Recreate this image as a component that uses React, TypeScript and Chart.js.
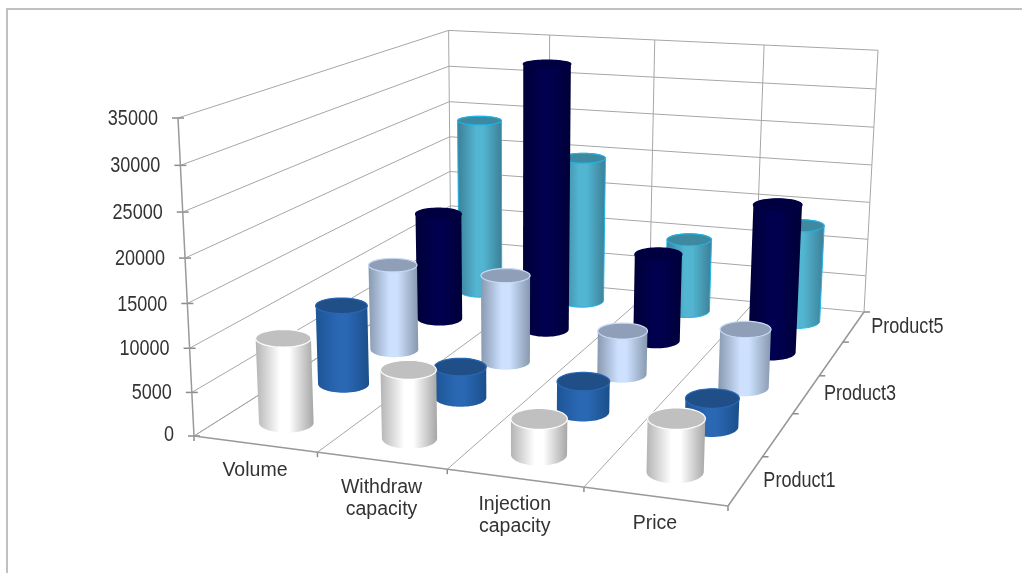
import React, { useEffect, useRef } from "react";
import { Chart, registerables } from "chart.js";

Chart.register(...registerables);

const categories: (string | string[])[] = ["Volume", ["Withdraw", "capacity"], ["Injection", "capacity"], "Price"];
const products = ["Product1", "Product2", "Product3", "Product4", "Product5"];
const product1 = [9800, 7800, 4000, 5800];
const product2 = [9600, 3700, 3600, 3300];
const product3 = [10900, 10900, 5400, 7100];
const product4 = [14200, 34500, 11300, 18800];
const product5 = [24000, 19800, 9800, 12900];
const seriesValues = [product1, product2, product3, product4, product5];

// shading per series: edge-left, light, edge-right, top, rim
const shades = [
  { l: "#b4b4b4", m: "#ffffff", r: "#a6a6a6", top: "#c0c0c0", rim: "#ffffff" },
  { l: "#1d5595", m: "#2a68b4", r: "#1b4f8a", top: "#1f4f86", rim: "#2a68b4" },
  { l: "#8899b0", m: "#cde1ff", r: "#8798ae", top: "#8f9fb8", rim: "#c6d9f5" },
  { l: "#000038", m: "#00004f", r: "#000038", top: "#000040", rim: "#000048" },
  { l: "#3d7f97", m: "#52b6d2", r: "#3d7f97", top: "#3e899f", rim: "#1fb4e6" },
];

// Box geometry in picture space.
const floorCorners = [[194, 436], [728, 506], [864, 312], [451, 273.5]];
const topFrontLeft = [178, 118];
const topBackRight = [878, 51];

function makeProjector() {
  const [[x0, y0], [x1, y1], [x2, y2], [x3, y3]] = floorCorners;
  const dx1 = x1 - x2, dx2 = x3 - x2, sx = x0 - x1 + x2 - x3;
  const dy1 = y1 - y2, dy2 = y3 - y2, sy = y0 - y1 + y2 - y3;
  const den = dx1 * dy2 - dx2 * dy1;
  const g = (sx * dy2 - dx2 * sy) / den;
  const h = (dx1 * sy - sx * dy1) / den;
  const pu = [x1 - x0 + g * x1, y1 - y0 + g * y1, g];
  const pv = [x3 - x0 + h * x3, y3 - y0 + h * y3, h];
  const p0 = [x0, y0, 1];
  const T = [topFrontLeft[0], topFrontLeft[1], 1];
  const n = pu[0] + pv[0], m = pu[2] + pv[2];
  const s = (n - topBackRight[0] * m) / (topBackRight[0] - T[0]);
  const pw = [s * T[0] - p0[0], s * T[1] - p0[1], s - p0[2]];
  return (u: number, v: number, w: number): [number, number] => {
    const X = pu[0] * u + pv[0] * v + pw[0] * w + p0[0];
    const Y = pu[1] * u + pv[1] * v + pw[1] * w + p0[1];
    const W = pu[2] * u + pv[2] * v + pw[2] * w + p0[2];
    return [X / W, Y / W];
  };
}

function hull(pts: [number, number][]) {
  const p = [...pts].sort((a, b) => a[0] - b[0] || a[1] - b[1]);
  const cross = (o: number[], a: number[], b: number[]) =>
    (a[0] - o[0]) * (b[1] - o[1]) - (a[1] - o[1]) * (b[0] - o[0]);
  const lo: [number, number][] = [];
  for (const q of p) {
    while (lo.length >= 2 && cross(lo[lo.length - 2], lo[lo.length - 1], q) <= 0) lo.pop();
    lo.push(q);
  }
  const up: [number, number][] = [];
  for (let i = p.length - 1; i >= 0; i--) {
    const q = p[i];
    while (up.length >= 2 && cross(up[up.length - 2], up[up.length - 1], q) <= 0) up.pop();
    up.push(q);
  }
  return lo.slice(0, -1).concat(up.slice(0, -1));
}

// Circle on the floor or lid of the box, drawn level as the reference does.
function levelEllipse(pts: [number, number][], N: number) {
  const xs = pts.map((p) => p[0]);
  const ys = pts.map((p) => p[1]);
  const x0 = Math.min(...xs), x1 = Math.max(...xs), y0 = Math.min(...ys), y1 = Math.max(...ys);
  const out: [number, number][] = [];
  for (let k = 0; k < N; k++) {
    const t = (k / N) * Math.PI * 2;
    out.push([(x0 + x1) / 2 + ((x1 - x0) / 2) * Math.cos(t), (y0 + y1) / 2 + ((y1 - y0) / 2) * Math.sin(t)]);
  }
  return out;
}

const NARROW = 0.82;

const cylinder3D = {
  id: "cylinder3D",
  beforeDatasetsDraw(chart: any) {
    const { ctx, scales } = chart;
    const xs = scales.x, ys = scales.y, zs = scales.z;
    const P = makeProjector();
    const U = (i: number) => (xs.getPixelForValue(i) - xs.left) / xs.width;
    const V = (j: number) => (zs.getPixelForValue(j) - zs.left) / zs.width;
    const W = (val: number) => (ys.bottom - ys.getPixelForValue(val)) / ys.height;
    const nCat = categories.length, nSer = products.length;

    const line = (a: [number, number], b: [number, number], color = "#a6a6a6", lw = 1) => {
      ctx.strokeStyle = color;
      ctx.lineWidth = lw;
      ctx.beginPath();
      ctx.moveTo(a[0], a[1]);
      ctx.lineTo(b[0], b[1]);
      ctx.stroke();
    };
    const narrowText = (t: string, x: number, y: number) => {
      ctx.save();
      ctx.translate(x, y);
      ctx.scale(NARROW, 1);
      ctx.fillText(t, 0, 0);
      ctx.restore();
    };

    ctx.save();
    // chart frame
    ctx.strokeStyle = "#c0c0c0";
    ctx.lineWidth = 2;
    ctx.beginPath();
    ctx.moveTo(7, 575);
    ctx.lineTo(7, 9);
    ctx.lineTo(1024, 9);
    ctx.stroke();

    // walls
    const ticks = ys.ticks.map((t: any) => t.value);
    for (const t of ticks) {
      const w = W(t);
      line(P(0, 0, w), P(0, 1, w));
      line(P(0, 1, w), P(1, 1, w));
      const a = P(0, 0, w);
      line([a[0] - 6, a[1]], [a[0] + 6, a[1]], "#8c8c8c", 1.5);
      ctx.fillStyle = "#333333";
      ctx.font = '22px "Liberation Sans", Arial, sans-serif';
      ctx.textAlign = "right";
      ctx.textBaseline = "middle";
      narrowText(String(t), a[0] - 20, a[1] + (t === 0 ? -1 : 1));
    }
    for (let i = 0; i <= nCat; i++) {
      const u = i / nCat;
      line(P(u, 1, 0), P(u, 1, 1));
      line(P(u, 0, 0), P(u, 1, 0));
      const a = P(u, 0, 0);
      line(a, [a[0], a[1] + 5], "#8c8c8c", 1.5);
    }
    line(P(0, 0, 0), P(0, 0, 1), "#999999", 1.5);
    line(P(0, 0, 0), P(1, 0, 0), "#999999", 1.5);
    line(P(1, 0, 0), P(1, 1, 0), "#999999", 1.5);
    for (let j = 1; j <= nSer; j++) {
      const a = P(1, j / nSer, 0);
      line(a, [a[0] + 6, a[1]], "#8c8c8c", 1.5);
    }

    // category labels
    ctx.fillStyle = "#333333";
    ctx.font = '19.5px "Liberation Sans", Arial, sans-serif';
    ctx.textAlign = "center";
    ctx.textBaseline = "middle";
    categories.forEach((c, i) => {
      const a = P(U(i), 0, 0);
      const lines = Array.isArray(c) ? c : [c];
      lines.forEach((t, k) => ctx.fillText(t, a[0], a[1] + 27 + k * 22));
    });

    // depth labels: every other one, as in the reference
    ctx.font = '22px "Liberation Sans", Arial, sans-serif';
    ctx.textAlign = "left";
    products.forEach((name, j) => {
      if (j % 2) return;
      const a = P(1, V(j), 0);
      narrowText(name, a[0] + 17.5, a[1]);
    });

    // cylinders, back row first
    const ru = 0.195 / nCat, rv = 0.23 / nSer, N = 64;
    for (let j = nSer - 1; j >= 0; j--) {
      const sh = shades[j];
      for (let i = 0; i < nCat; i++) {
        const u = U(i), v = V(j), w = W(chart.data.datasets[j].data[i]);
        const bottomRaw: [number, number][] = [];
        const topRaw: [number, number][] = [];
        for (let k = 0; k < N; k++) {
          const t = (k / N) * Math.PI * 2;
          const cu = u + ru * Math.cos(t), cv = v + rv * Math.sin(t);
          bottomRaw.push(P(cu, cv, 0));
          topRaw.push(P(cu, cv, w));
        }
        const bottom = levelEllipse(bottomRaw, N);
        const top = levelEllipse(topRaw, N);
        const body = hull(bottom.concat(top));
        const minX = Math.min(...body.map((p) => p[0]));
        const maxX = Math.max(...body.map((p) => p[0]));
        const g = ctx.createLinearGradient(minX, 0, maxX, 0);
        g.addColorStop(0, sh.l);
        g.addColorStop(0.42, sh.m);
        g.addColorStop(0.58, sh.m);
        g.addColorStop(1, sh.r);
        ctx.beginPath();
        body.forEach((p, k) => (k ? ctx.lineTo(p[0], p[1]) : ctx.moveTo(p[0], p[1])));
        ctx.closePath();
        ctx.fillStyle = g;
        ctx.fill();
        if (j === nSer - 1) {
          ctx.strokeStyle = sh.rim;
          ctx.lineWidth = 1;
          ctx.stroke();
        }
        ctx.beginPath();
        top.forEach((p, k) => (k ? ctx.lineTo(p[0], p[1]) : ctx.moveTo(p[0], p[1])));
        ctx.closePath();
        ctx.fillStyle = sh.top;
        ctx.fill();
        ctx.strokeStyle = sh.rim;
        ctx.lineWidth = 1.2;
        ctx.stroke();
      }
    }
    ctx.restore();
  },
};

export default function App() {
  const ref = useRef<HTMLCanvasElement>(null);
  useEffect(() => {
    const chart = new Chart(ref.current as HTMLCanvasElement, {
      type: "bar",
      data: {
        labels: categories as any,
        datasets: products.map((name, j) => ({
          label: name,
          data: seriesValues[j],
          backgroundColor: "rgba(0,0,0,0)",
          borderWidth: 0,
        })),
      },
      options: {
        animation: false,
        responsive: false,
        events: [],
        layout: { padding: 0 },
        plugins: { legend: { display: false }, tooltip: { enabled: false } },
        scales: {
          x: { display: false, offset: true },
          y: { display: false, min: 0, max: 35000, ticks: { stepSize: 5000 } },
          z: { type: "category", axis: "x", labels: products, display: false, offset: true },
        },
      } as any,
      plugins: [cylinder3D],
    });
    return () => chart.destroy();
  }, []);
  return (
    <div style={{ position: "absolute", left: 0, top: 0, width: 1022, height: 573, overflow: "hidden", background: "#ffffff" }}>
      <canvas ref={ref} width={1022} height={573} style={{ display: "block" }} />
    </div>
  );
}
